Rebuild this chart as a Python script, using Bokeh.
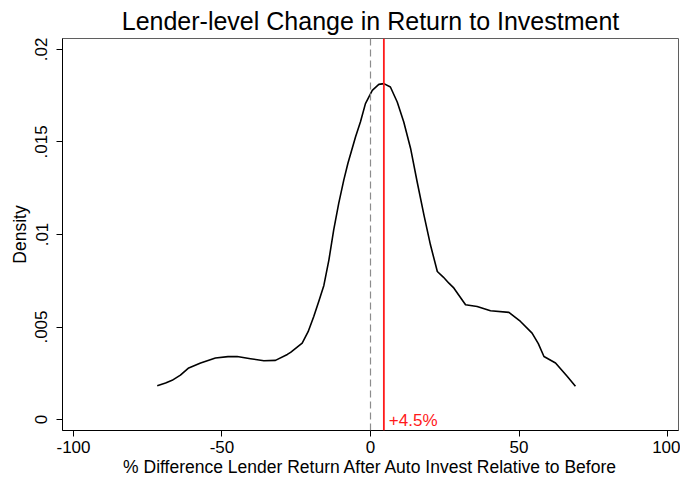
from bokeh.plotting import figure
from bokeh.models import Range1d, FixedTicker, Span, Label
from bokeh.embed import file_html
from bokeh.resources import INLINE

# ---- data ----
x_vals = [-71.8, -69.0, -66.8, -64.0, -61.2, -57.2, -52.2, -48.0, -44.9, -40.4,
          -35.9, -32.0, -28.0, -26.9, -23.0, -21.0, -19.1, -17.4, -15.7, -14.0,
          -12.4, -10.7, -9.0, -7.6, -5.05, -3.4, -1.7, 0.6, 2.8, 4.5,
          6.7, 9.0, 11.2, 13.5, 15.7, 18.0, 20.2, 22.5, 24.5, 26.4,
          28.1, 32.0, 35.9, 40.4, 46.6, 50.5, 54.4, 56.5, 58.4, 62.3,
          66.2, 69.0]
density = [0.00183, 0.00198, 0.00212, 0.00240, 0.00279, 0.00306, 0.00333, 0.00340, 0.00341, 0.00329,
           0.00318, 0.00320, 0.00352, 0.00363, 0.00413, 0.00475, 0.00557, 0.00640, 0.00725, 0.00863,
           0.01024, 0.01168, 0.01294, 0.01385, 0.01527, 0.01608, 0.01707, 0.01779, 0.01811, 0.01815,
           0.01797, 0.01716, 0.01608, 0.01465, 0.01285, 0.01105, 0.00943, 0.00800, 0.00770, 0.00737,
           0.00710, 0.00620, 0.00611, 0.00588, 0.00579, 0.00530, 0.00467, 0.00410, 0.00341, 0.00306,
           0.00234, 0.00180]

x_ticks = [-100, -50, 0, 50, 100]
x_tick_labels = ["-100", "-50", "0", "50", "100"]
y_ticks = [0, 0.005, 0.01, 0.015, 0.02]
y_tick_labels = ["0", ".005", ".01", ".015", ".02"]

zero_line = 0
mean_change = 4.5
mean_label = "+4.5%"

title_text = "Lender-level Change in Return to Investment"
x_label = "% Difference Lender Return After Auto Invest Relative to Before"
y_label = "Density"

FONT = "Liberation Sans"

p = figure(width=680, height=479, output_backend="svg", toolbar_location=None,
           x_range=Range1d(-103.7, 103.7), y_range=Range1d(-0.00059, 0.02059),
           min_border_left=62, min_border_right=2, min_border_top=38, min_border_bottom=48,
           title=title_text)

p.title.text_font = FONT
p.title.text_font_size = "25px"
p.title.text_font_style = "normal"
p.title.align = "center"
p.title.text_color = "black"
p.title.standoff = 8

p.background_fill_color = "white"
p.border_fill_color = "white"
p.outline_line_color = "#5f5f5f"
p.outline_line_width = 1
p.xgrid.visible = False
p.ygrid.visible = False

for ax in (p.xaxis[0], p.yaxis[0]):
    ax.axis_line_color = "black"
    ax.axis_line_width = 1
    ax.major_tick_line_color = "black"
    ax.major_tick_out = 6
    ax.major_tick_in = 0
    ax.minor_tick_line_color = None
    ax.major_label_text_font = FONT
    ax.major_label_text_font_size = "17px"
    ax.major_label_text_color = "black"
    ax.axis_label_text_font = FONT
    ax.axis_label_text_font_size = "17.5px"
    ax.axis_label_text_font_style = "normal"
    ax.axis_label_text_color = "black"

p.xaxis.ticker = FixedTicker(ticks=x_ticks)
p.xaxis.major_label_overrides = {t: s for t, s in zip(x_ticks, x_tick_labels)}
p.yaxis.ticker = FixedTicker(ticks=y_ticks)
p.yaxis.major_label_overrides = {t: s for t, s in zip(y_ticks, y_tick_labels)}
p.yaxis.major_label_orientation = "vertical"
p.xaxis.axis_label = x_label
p.yaxis.axis_label = y_label
p.xaxis.major_label_standoff = 4
p.xaxis.axis_label_standoff = 1
p.yaxis.major_label_standoff = 9
p.yaxis.axis_label_standoff = 3

p.add_layout(Span(location=zero_line, dimension="height", line_color="#8c8c8c",
                  line_width=1.2, line_dash="7 4"))
p.add_layout(Span(location=mean_change, dimension="height", line_color="#ff1a1a",
                  line_width=1.8))

p.line(x_vals, density, line_color="black", line_width=1.6, line_join="round")

p.add_layout(Label(x=mean_change, y=0, x_offset=5, y_offset=-1, text=mean_label,
                   text_color="#ff1a1a", text_font=FONT, text_font_size="17px",
                   text_baseline="alphabetic"))

open("out.html", "w").write(file_html(p, INLINE))
